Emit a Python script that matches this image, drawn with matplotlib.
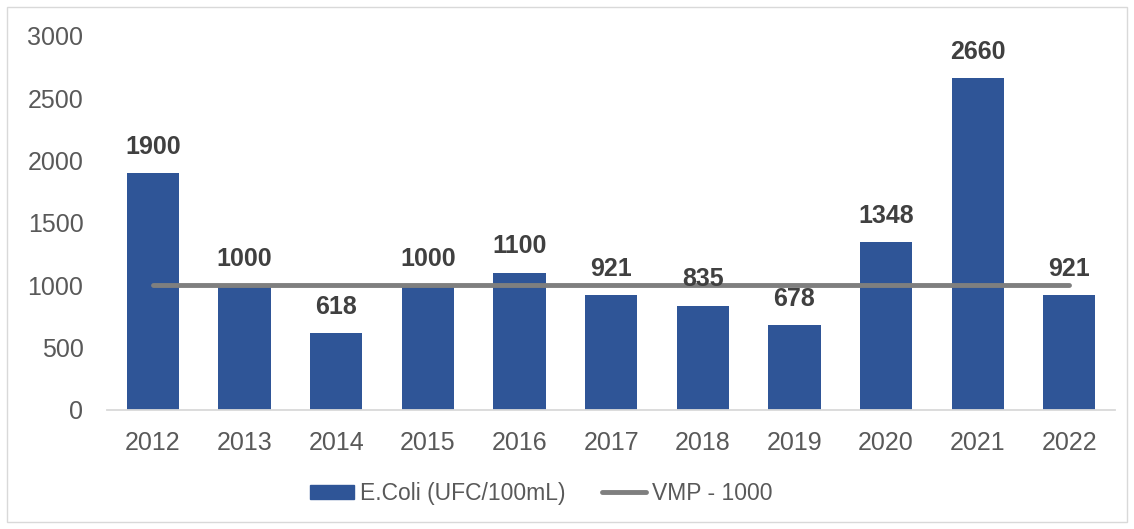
import matplotlib.pyplot as plt
from matplotlib.patches import Rectangle
from matplotlib.lines import Line2D
from matplotlib.patches import Patch

plt.rcParams['font.family'] = ['Liberation Sans', 'DejaVu Sans']

# data
years = ["2012", "2013", "2014", "2015", "2016", "2017", "2018", "2019", "2020", "2021", "2022"]
ecoli = [1900, 1000, 618, 1000, 1100, 921, 835, 678, 1348, 2660, 921]
vmp = [1000] * len(years)

bar_color = "#2F5597"
line_color = "#7F7F7F"
tick_color = "#595959"
fs = 18

fig = plt.figure(figsize=(11.34, 5.29), dpi=100)
ax = fig.add_axes([0.0944, 0.225, 0.889, 0.707])

x = range(len(years))
ax.bar(x, ecoli, width=0.57, color=bar_color, zorder=2)
ax.plot(x, vmp, color=line_color, lw=3.5, solid_capstyle="round", zorder=3)

for xi, v in zip(x, ecoli):
    ax.annotate(str(v), (xi, v), xytext=(0, 19), textcoords="offset points",
                ha="center", va="center", fontsize=fs, fontweight="bold", color="#404040")

ax.set_xlim(-0.5, len(years) - 0.5)
ax.set_ylim(0, 3000)
ax.set_yticks(range(0, 3001, 500))
ax.set_xticks(list(x))
ax.set_xticklabels(years)
ax.tick_params(axis="both", length=0, labelsize=fs, labelcolor=tick_color)
ax.tick_params(axis="y", pad=17)
ax.tick_params(axis="x", pad=15)

for s in ["top", "right", "left"]:
    ax.spines[s].set_visible(False)
ax.spines["bottom"].set_color("#D9D9D9")
ax.spines["bottom"].set_linewidth(1.3)

handles = [Patch(color=bar_color, label="E.Coli (UFC/100mL)"),
           Line2D([0], [0], color=line_color, lw=3.5, solid_capstyle="round", label="VMP - 1000")]
fig.legend(handles=handles, loc="center", bbox_to_anchor=(0.4775, 0.067), ncol=2, frameon=False,
           fontsize=16.5, labelcolor=tick_color, handlelength=1.92, handleheight=0.6,
           handletextpad=0.25, columnspacing=1.6)

fig.patches.append(Rectangle((0.006, 0.013), 0.988, 0.974, transform=fig.transFigure,
                             fill=False, edgecolor="#D9D9D9", lw=1))

fig.savefig("out.png", dpi=100)
